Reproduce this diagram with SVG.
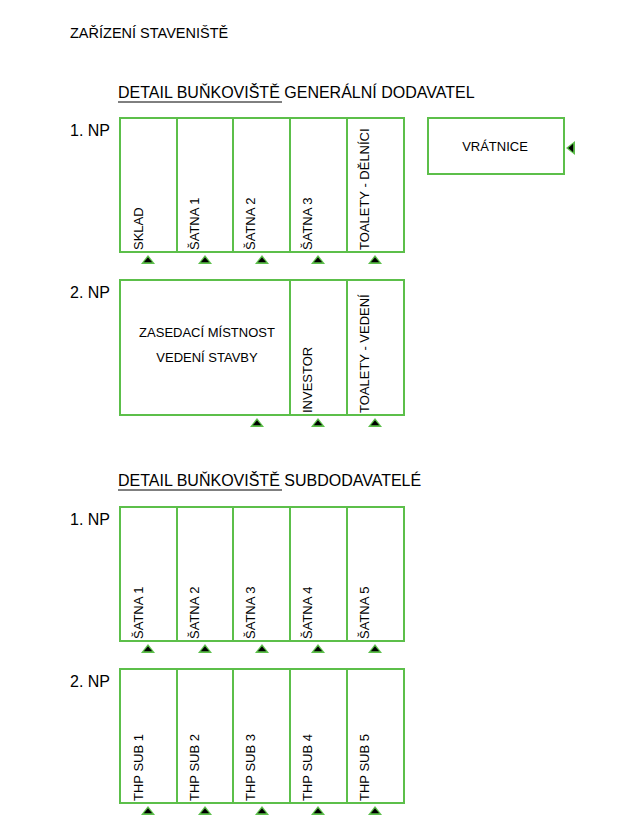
<svg xmlns="http://www.w3.org/2000/svg" xmlns:xlink="http://www.w3.org/1999/xlink" width="637" height="831" viewBox="0 0 637 831">
  <style>
    text { font-family: "Liberation Sans", Arial, sans-serif; fill: #000; }
    .title { font-size: 14.5px; }
    .head { font-size: 16px; }
    .floor { font-size: 16px; }
    .lbl { font-size: 13px; }
    .cell { fill: #fff; stroke: #5cbf4a; stroke-width: 2; }
    .ul { stroke: #000; stroke-width: 1; }
    .rim { fill: #5cbf4a; }
    .core { fill: #000; }
  </style>
  <defs>
    <!-- entrance marker: green triangle with black core, apex up -->
    <g id="entry">
      <polygon class="rim" points="-7,10 7,10 0,1"/>
      <polygon class="core" points="-4.2,8.2 4.2,8.2 0,3.2"/>
    </g>
    <!-- entrance marker pointing left -->
    <g id="entryLeft">
      <polygon class="rim" points="10,-7 10,7 1,0"/>
      <polygon class="core" points="8.2,-4.2 8.2,4.2 3.2,0"/>
    </g>
  </defs>

  <rect width="637" height="831" fill="#fff"/>

  <text class="title" x="70" y="38">ZAŘÍZENÍ STAVENIŠTĚ</text>

  <!-- general contractor block -->
  <text class="head" x="118" y="98">DETAIL BUŇKOVIŠTĚ GENERÁLNÍ DODAVATEL</text>
  <line class="ul" x1="118" y1="102" x2="282" y2="102"/>

  <g id="gd-1np">
    <text class="floor" x="70" y="136">1. NP</text>
    <rect class="cell" x="120" y="118" width="57" height="134"/>
    <rect class="cell" x="177" y="118" width="56" height="134"/>
    <rect class="cell" x="233" y="118" width="57" height="134"/>
    <rect class="cell" x="290" y="118" width="57" height="134"/>
    <rect class="cell" x="347" y="118" width="57" height="134"/>
    <text class="lbl" transform="translate(143,250) rotate(-90)">SKLAD</text>
    <text class="lbl" transform="translate(199,250) rotate(-90)">ŠATNA 1</text>
    <text class="lbl" transform="translate(255,250) rotate(-90)">ŠATNA 2</text>
    <text class="lbl" transform="translate(312,250) rotate(-90)">ŠATNA 3</text>
    <text class="lbl" transform="translate(369,250) rotate(-90)">TOALETY - DĚLNÍCI</text>
    <use xlink:href="#entry" x="148" y="254"/>
    <use xlink:href="#entry" x="205" y="254"/>
    <use xlink:href="#entry" x="262" y="254"/>
    <use xlink:href="#entry" x="318" y="254"/>
    <use xlink:href="#entry" x="375" y="254"/>
  </g>

  <g id="vratnice">
    <rect class="cell" x="428" y="118" width="136" height="56"/>
    <text class="lbl" x="495" y="151" text-anchor="middle">VRÁTNICE</text>
    <use xlink:href="#entryLeft" x="565" y="148"/>
  </g>

  <g id="gd-2np">
    <text class="floor" x="70" y="298">2. NP</text>
    <rect class="cell" x="120" y="280" width="170" height="135"/>
    <rect class="cell" x="290" y="280" width="57" height="135"/>
    <rect class="cell" x="347" y="280" width="57" height="135"/>
    <text class="lbl" x="207" y="337" text-anchor="middle">ZASEDACÍ MÍSTNOST</text>
    <text class="lbl" x="207" y="362" text-anchor="middle">VEDENÍ STAVBY</text>
    <text class="lbl" transform="translate(312,413) rotate(-90)">INVESTOR</text>
    <text class="lbl" transform="translate(369,413) rotate(-90)">TOALETY - VEDENÍ</text>
    <use xlink:href="#entry" x="257" y="417"/>
    <use xlink:href="#entry" x="318" y="417"/>
    <use xlink:href="#entry" x="375" y="417"/>
  </g>

  <!-- subcontractor block -->
  <text class="head" x="118" y="486">DETAIL BUŇKOVIŠTĚ SUBDODAVATELÉ</text>
  <line class="ul" x1="118" y1="490" x2="282" y2="490"/>

  <g id="sub-1np">
    <text class="floor" x="70" y="525">1. NP</text>
    <rect class="cell" x="120" y="507" width="57" height="134"/>
    <rect class="cell" x="177" y="507" width="56" height="134"/>
    <rect class="cell" x="233" y="507" width="57" height="134"/>
    <rect class="cell" x="290" y="507" width="57" height="134"/>
    <rect class="cell" x="347" y="507" width="57" height="134"/>
    <text class="lbl" transform="translate(143,639) rotate(-90)">ŠATNA 1</text>
    <text class="lbl" transform="translate(199,639) rotate(-90)">ŠATNA 2</text>
    <text class="lbl" transform="translate(255,639) rotate(-90)">ŠATNA 3</text>
    <text class="lbl" transform="translate(312,639) rotate(-90)">ŠATNA 4</text>
    <text class="lbl" transform="translate(369,639) rotate(-90)">ŠATNA 5</text>
    <use xlink:href="#entry" x="148" y="643"/>
    <use xlink:href="#entry" x="205" y="643"/>
    <use xlink:href="#entry" x="262" y="643"/>
    <use xlink:href="#entry" x="318" y="643"/>
    <use xlink:href="#entry" x="375" y="643"/>
  </g>

  <g id="sub-2np">
    <text class="floor" x="70" y="687">2. NP</text>
    <rect class="cell" x="120" y="669" width="57" height="134"/>
    <rect class="cell" x="177" y="669" width="56" height="134"/>
    <rect class="cell" x="233" y="669" width="57" height="134"/>
    <rect class="cell" x="290" y="669" width="57" height="134"/>
    <rect class="cell" x="347" y="669" width="57" height="134"/>
    <text class="lbl" transform="translate(143,801) rotate(-90)">THP SUB 1</text>
    <text class="lbl" transform="translate(199,801) rotate(-90)">THP SUB 2</text>
    <text class="lbl" transform="translate(255,801) rotate(-90)">THP SUB 3</text>
    <text class="lbl" transform="translate(312,801) rotate(-90)">THP SUB 4</text>
    <text class="lbl" transform="translate(369,801) rotate(-90)">THP SUB 5</text>
    <use xlink:href="#entry" x="148" y="805"/>
    <use xlink:href="#entry" x="205" y="805"/>
    <use xlink:href="#entry" x="262" y="805"/>
    <use xlink:href="#entry" x="318" y="805"/>
    <use xlink:href="#entry" x="375" y="805"/>
  </g>
</svg>
